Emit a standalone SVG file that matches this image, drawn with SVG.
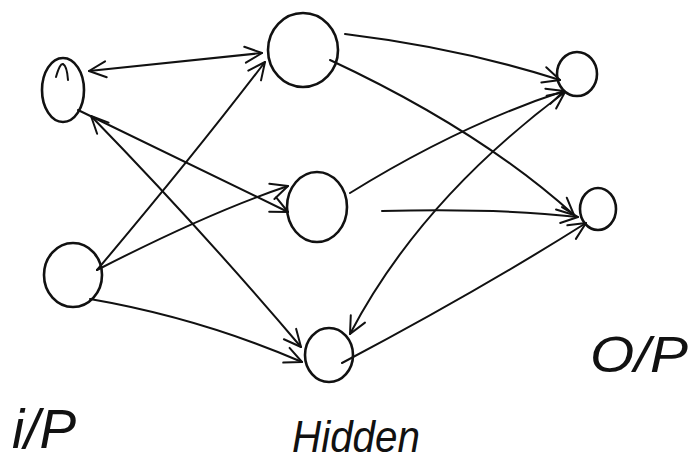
<svg xmlns="http://www.w3.org/2000/svg" width="688" height="466" viewBox="0 0 688 466">
  <defs>
    <!-- open V arrowhead, hand-drawn weight -->
    <marker id="arrow" viewBox="0 0 20 20" refX="19" refY="10" markerWidth="20" markerHeight="20" markerUnits="userSpaceOnUse" orient="auto-start-reverse">
      <path d="M2,2 L19,10 L2,18" fill="none" stroke="#111" stroke-width="2" stroke-linecap="round" stroke-linejoin="round"/>
    </marker>
  </defs>
  <style>
    .node { fill: none; stroke: #111; stroke-width: 2.6; }
    .edge { fill: none; stroke: #111; stroke-width: 2; stroke-linecap: round; }
    .label { font-family: "Liberation Sans", Arial, sans-serif; font-style: italic; fill: #111; }
  </style>
  <rect width="688" height="466" fill="#ffffff"/>

  <!-- connectors -->
  <g id="connectors">
    <!-- input 1 <-> hidden 1 -->
    <path class="edge" d="M89,71 L262,53" marker-start="url(#arrow)" marker-end="url(#arrow)"/>
    <!-- input 1 -> hidden 2 -->
    <path class="edge" d="M78,110 L288,212" marker-end="url(#arrow)"/>
    <!-- input 1 <-> hidden 3 -->
    <path class="edge" d="M91,116 Q200,228 301,347" marker-start="url(#arrow)" marker-end="url(#arrow)"/>
    <!-- input 2 -> hidden 1 -->
    <path class="edge" d="M97,270 Q190,160 265,62" marker-end="url(#arrow)"/>
    <!-- input 2 -> hidden 2 -->
    <path class="edge" d="M97,270 Q210,212 288,186" marker-end="url(#arrow)"/>
    <!-- input 2 -> hidden 3 -->
    <path class="edge" d="M90,299 Q200,318 302,362" marker-end="url(#arrow)"/>
    <!-- hidden 1 -> output 1 -->
    <path class="edge" d="M345,34 Q460,48 560,80" marker-end="url(#arrow)"/>
    <!-- hidden 1 -> output 2 -->
    <path class="edge" d="M330,60 Q480,130 574,215" marker-end="url(#arrow)"/>
    <!-- hidden 2 -> output 1 -->
    <path class="edge" d="M350,193 Q460,125 564,91" marker-end="url(#arrow)"/>
    <!-- hidden 2 -> output 2 -->
    <path class="edge" d="M382,211 Q500,208 578,217" marker-end="url(#arrow)"/>
    <!-- hidden 3 <-> output 1 -->
    <path class="edge" d="M350,334 Q420,200 565,92" marker-start="url(#arrow)" marker-end="url(#arrow)"/>
    <!-- hidden 3 -> output 2 -->
    <path class="edge" d="M342,363 Q480,290 586,223" marker-end="url(#arrow)"/>
  </g>

  <!-- input layer -->
  <g id="input-1">
    <ellipse class="node" cx="63" cy="90" rx="21" ry="32"/>
    <path class="edge" d="M56,77 Q60,63 63,64 Q67,66 68,80"/>
  </g>
  <g id="input-2">
    <ellipse class="node" cx="73" cy="275" rx="29" ry="32"/>
  </g>

  <!-- hidden layer -->
  <g id="hidden-1">
    <ellipse class="node" cx="303" cy="50" rx="35" ry="37"/>
  </g>
  <g id="hidden-2">
    <ellipse class="node" cx="317" cy="207" rx="30" ry="35"/>
  </g>
  <g id="hidden-3">
    <ellipse class="node" cx="329" cy="355" rx="24" ry="27"/>
  </g>

  <!-- output layer -->
  <g id="output-1">
    <ellipse class="node" cx="577" cy="74" rx="20" ry="22"/>
  </g>
  <g id="output-2">
    <ellipse class="node" cx="598" cy="209" rx="18" ry="21"/>
  </g>

  <!-- layer captions -->
  <g id="captions">
    <text class="label" x="12" y="448" font-size="56" textLength="64" lengthAdjust="spacingAndGlyphs">i/P</text>
    <text class="label" x="292" y="452" font-size="44" textLength="128" lengthAdjust="spacingAndGlyphs">Hidden</text>
    <text class="label" x="590" y="372" font-size="50" textLength="98" lengthAdjust="spacingAndGlyphs">O/P</text>
  </g>
</svg>
